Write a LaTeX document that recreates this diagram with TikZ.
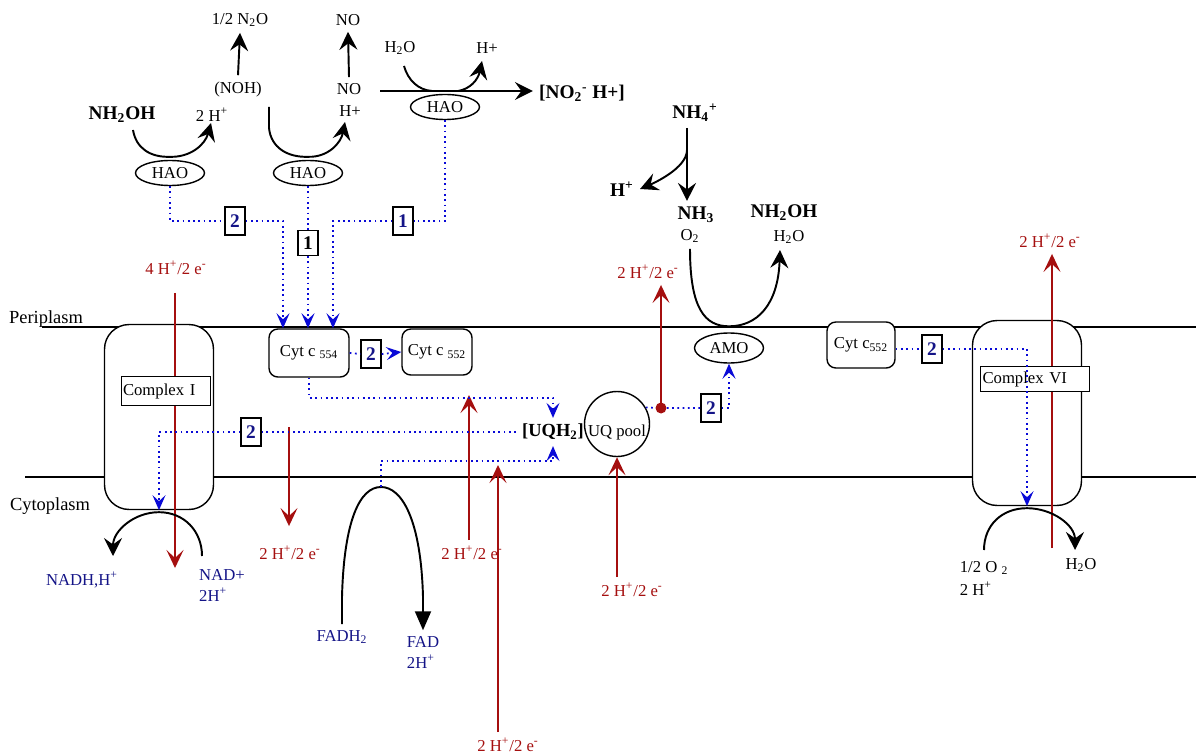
\documentclass[tikz,border=0pt]{standalone}
\usepackage{fontspec}
\setmainfont{Liberation Serif}
\usetikzlibrary{arrows.meta, positioning, calc, shapes.geometric}

\definecolor{protonred}{RGB}{165,15,15}
\definecolor{navyblue}{RGB}{20,20,135}
\definecolor{eblue}{RGB}{10,10,215}

\tikzset{
  rxn/.style={line width=1.1pt, -{Stealth[length=0.36cm, width=0.36cm, inset=0.13cm]}},
  rxnline/.style={line width=1.1pt},
  fadarr/.style={line width=1.1pt, -{Triangle[length=0.38cm, width=0.32cm]}},
  proton/.style={protonred, line width=0.9pt, -{Stealth[length=0.36cm, width=0.34cm, inset=0.16cm]}},
  eflow/.style={eblue, line width=1pt, dotted},
  etip/.style={eflow, -{Stealth[length=0.3cm, width=0.26cm, inset=0.12cm]}},
  enz/.style={draw, thick, ellipse, fill=white, minimum width=1.38cm, minimum height=0.5cm, inner sep=0pt},
  cytbox/.style={draw, thick, rounded corners=5pt, fill=white, minimum width=1.36cm, minimum height=0.92cm},
  complexbox/.style={draw, thick, rounded corners=14pt, fill=white, minimum width=2.18cm, minimum height=3.7cm},
  cxlabel/.style={draw, thick, fill=white, inner sep=1pt, align=left},
  tagbox/.style={draw, thick, fill=white, inner sep=0pt, minimum width=0.4cm, minimum height=0.56cm, font=\bfseries\fontsize{11}{12}\selectfont, text=navyblue},
  redlab/.style={text=protonred},
  bluelab/.style={text=navyblue},
  chem/.style={font=\bfseries\fontsize{11}{12}\selectfont}
}

\begin{document}
\begin{tikzpicture}[x=0.02cm, y=-0.02cm, every node/.style={font=\fontsize{9.5}{11}\selectfont}]
    \useasboundingbox (0,0) rectangle (1196,753);

    % Membrane
    \draw[line width=0.9pt] (42,327) -- (1196,327);
    \draw[line width=0.9pt] (25,477) -- (1196,477);
    \node[font=\fontsize{10.5}{12}\selectfont] (peri) at (46,319) {Periplasm};
    \node[font=\fontsize{10.5}{12}\selectfont] (cyto) at (50,506) {Cytoplasm};

    % Complexes and carriers
    \node[complexbox] (cx1) at (159,417) {};
    \node[complexbox] (cx6) at (1027,413) {};
    \node[cytbox, minimum width=1.6cm, minimum height=0.96cm] (c554) at (309,353) {Cyt c \textsubscript{554}};
    \node[cytbox] (c552) at (437,352) {Cyt c \textsubscript{552}};
    \node[cytbox] (c552r) at (861,345) {Cyt c\textsubscript{552}};
    \node[enz, minimum height=0.6cm] (amo) at (729,348) {AMO};
    \node[draw, thick, circle, fill=white, minimum size=1.3cm, inner sep=0pt] (uq) at (617,424) {};
    \node[yshift=-0.16cm] (uqtext) at (uq.center) {UQ pool};
    \node[chem, font=\bfseries\fontsize{10.5}{12}\selectfont] (uqh) at (553,432) {[UQH\textsubscript{2}]};

    % Proton / electron translocation
    \node[redlab] (r1) at (176,268) {4 H\textsuperscript{+}/2 e\textsuperscript{-}};
    \node[redlab] (r2) at (290,553) {2 H\textsuperscript{+}/2 e\textsuperscript{-}};
    \node[redlab] (r3) at (472,553) {2 H\textsuperscript{+}/2 e\textsuperscript{-}};
    \node[redlab] (r4) at (508,745) {2 H\textsuperscript{+}/2 e\textsuperscript{-}};
    \node[redlab] (r5) at (632,590) {2 H\textsuperscript{+}/2 e\textsuperscript{-}};
    \node[redlab] (r6) at (648,272) {2 H\textsuperscript{+}/2 e\textsuperscript{-}};
    \node[redlab] (r7) at (1050,241) {2 H\textsuperscript{+}/2 e\textsuperscript{-}};
    \coordinate (r1end) at (175,568);
    \coordinate (r2top) at (289,427);
    \coordinate (r3top) at (469,395);
    \coordinate (r4top) at (498,465);
    \coordinate (r7bot) at (1052,548);
    \node[circle, fill=protonred, inner sep=0pt, minimum size=0.22cm] (dot) at (661,408) {};
    \draw[proton] ($(r1.south)+(-1,12)$) -- (r1end);
    \draw[proton] (r2top) -- ($(r2.north)+(-1,-14)$);
    \draw[proton] (r3top |- r3.north) -- (r3top);
    \draw[proton] (r4top |- r4.north) -- (r4top);
    \draw[proton] (uq.south |- r5.north) -- (uq.south);
    \draw[proton] (dot.center) -- (dot.center |- r6.south);
    \draw[proton] (r7bot) -- (r7bot |- r7.south);

    \node[cxlabel, text width=1.72cm, minimum height=0.58cm] (cx1lab) at (166,391) {Complex I};
    \node[cxlabel, text width=2.1cm, minimum height=0.5cm] (cx6lab) at (1035,379) {Complex VI};

    % Hydroxylamine oxidation by HAO
    \node[enz] (hao1) at (170,173) {HAO};
    \node[enz] (hao2) at (308,173) {HAO};
    \node[enz] (hao3) at (445,107) {HAO};
    \node[chem] (nh2oh) at (122,115) {NH\textsubscript{2}OH};
    \node (h2p) at (212,115) {2 H\textsuperscript{+}};
    \node (noh) at (238,89) {(NOH)};
    \node (n2o) at (240,20) {1/2 N\textsubscript{2}O};
    \node (no) at (349,89) {NO};
    \node (hp1) at (350,111) {H+};
    \node (nogas) at (348,20) {NO};
    \node (h2oa) at (400,48) {H\textsubscript{2}O};
    \node (hp2) at (487,48) {H+};
    \node[chem] (nitrite) at (582,93) {[NO\textsubscript{2}\textsuperscript{-} H+]};
    \coordinate (a1) at (133,130);
    \coordinate (a1tip) at (211,123);
    \coordinate (a2) at (269,107);
    \coordinate (a2tip) at (345,122);
    \coordinate (a3) at (380,91);
    \coordinate (a3in) at (404,66);
    \coordinate (a3tip) at (482,61);
    \draw[rxn] (noh.north) -- (n2o.south);
    \draw[rxn] (no.north) -- (nogas.south);
    \draw[rxn] (a1) .. controls (136,148) and (150,157.5) .. ([yshift=0.06cm]hao1.north) .. controls (190,157.5) and (205,145) .. (a1tip);
    \draw[rxn] (a2) -- (269,128) .. controls (271,148) and (288,157.5) .. ([yshift=0.06cm]hao2.north) .. controls (328,157.5) and (341,143) .. (a2tip);
    \draw[rxn] (a3) -- (a3 -| nitrite.west);
    \draw[rxnline] (a3in) .. controls (408,80) and (418,90) .. (432,91);
    \draw[rxn] (458,91) .. controls (470,89) and (478,80) .. (a3tip);

    % Ammonia oxidation by AMO
    \node[chem] (nh4) at (695,113) {NH\textsubscript{4}\textsuperscript{+}};
    \node[chem] (hp3) at (622,189) {H\textsuperscript{+}};
    \node[chem] (nh3) at (696,215) {NH\textsubscript{3}};
    \node (o2a) at (690,236) {O\textsubscript{2}};
    \node[chem] (nh2ohb) at (784,213) {NH\textsubscript{2}OH};
    \node (h2ob) at (789,237) {H\textsubscript{2}O};
    \coordinate (nh4tail) at ([xshift=-0.16cm]nh4.south);
    \coordinate (nh4mid) at ($(nh4tail)+(0,22)$);
    \coordinate (amotop) at ([yshift=0.12cm]amo.north);
    \coordinate (amotip) at (780,250);
    \draw[rxn] (nh4tail) -- (nh4tail |- nh3.north);
    \draw[rxn] (nh4mid) .. controls +(0,18) and +(14,-6) .. (hp3.east);
    \draw[rxn] (o2a.south) .. controls +(0,60) and +(-24,0) .. (amotop) .. controls +(28,0) and +(-2,55) .. (amotip);

    % Cytoplasmic side
    \node[bluelab] (nadh) at (82,580) {NADH,H\textsuperscript{+}};
    \node[bluelab] (nad) at (222,575) {NAD+};
    \node[bluelab, below=-0.1cm of nad.south west, anchor=north west] (nad2h) {2H\textsuperscript{+}};
    \node[bluelab] (fadh) at (342,637) {FADH\textsubscript{2}};
    \node[bluelab] (fad) at (423,642) {FAD};
    \node[bluelab, below=-0.1cm of fad.south west, anchor=north west] (fad2h) {2H\textsuperscript{+}};
    \node (o2c) at (984,568) {1/2 O \textsubscript{2}};
    \node[below=-0.1cm of o2c.south west, anchor=north west] (o2h) {2 H\textsuperscript{+}};
    \node (h2oc) at (1081,565) {H\textsubscript{2}O};
    \coordinate (nadtail) at (202,556);
    \coordinate (nadhtip) at (113,556);
    \coordinate (o2tail) at (984,550);
    \coordinate (h2otip) at (1075,550);
    \coordinate (fadL) at (342,597);
    \coordinate (fadR) at (423,597);
    \coordinate (fadtop) at (381,487);
    \draw[rxn] (nadtail) .. controls +(0,-25) and +(25,0) .. ([yshift=-0.04cm]cx1.south) .. controls +(-25,0) and +(0,-25) .. (nadhtip);
    \draw[rxn] (o2tail) .. controls +(0,-25) and +(-25,0) .. ([yshift=-0.04cm]cx6.south) .. controls +(25,0) and +(0,-25) .. (h2otip);
    \draw[fadarr] (fadh.north) -- (fadL) .. controls (344,520) and (360,487) .. (fadtop) .. controls (402,487) and (421,520) .. (fadR) -- (fad.north);

    % Electron transfer
    \node[tagbox] (n2a) at (235,221) {2};
    \node[tagbox] (n1a) at (403,221) {1};
    \node[tagbox, text=black, minimum height=0.5cm] (n1b) at (308,243) {1};
    \node[tagbox] (n2b) at (371,354) {2};
    \node[tagbox] (n2c) at (251,432) {2};
    \node[tagbox] (n2d) at (711,408) {2};
    \node[tagbox] (n2e) at (932,349) {2};
    \draw[eflow] (hao1.south) |- (n2a.west);
    \draw[etip] (n2a.east) -| ([xshift=-0.52cm]c554.north);
    \draw[eflow] (hao2.south) -- (n1b.north);
    \draw[etip] (n1b.south) -- (n1b.south |- c554.north);
    \draw[eflow] (hao3.south) |- (n1a.east);
    \draw[etip] (n1a.west) -| ([xshift=0.48cm]c554.north);
    \draw[eflow] (c554.east) -- (n2b.west);
    \draw[etip] (n2b.east) -- (c552.west);
    \draw[etip] (c554.south) -- ++(0,20) -| (uqh.north);
    \draw[eflow] (uqh.west) -- (n2c.east);
    \draw[etip] (n2c.west) -| (cx1.south);
    \draw[etip] (fadtop) -- ++(0,-26) -| (uqh.south);
    \draw[eflow] (uq.30) -- (dot) -- (n2d.west);
    \draw[etip] (n2d.east) -| (amo.south);
    \draw[eflow] (n2e.west -| c552r.east) -- (n2e.west);
    \draw[etip] (n2e.east) -| (cx6.south);
\end{tikzpicture}
\end{document}
